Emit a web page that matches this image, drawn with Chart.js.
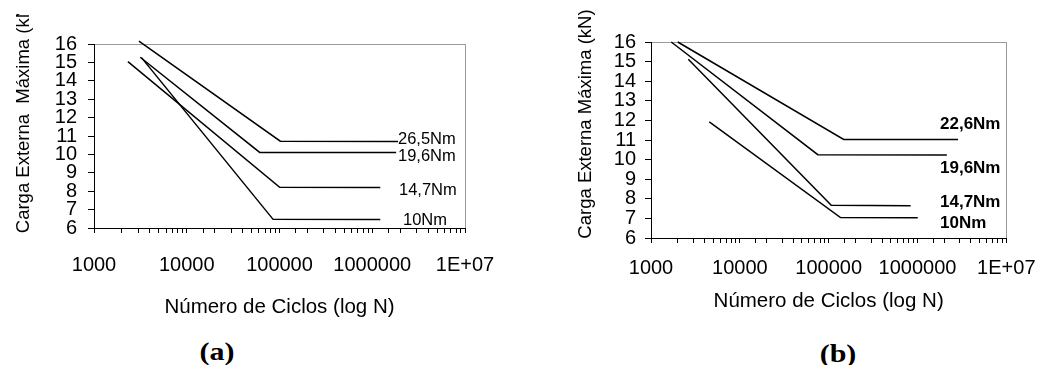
<!DOCTYPE html>
<html>
<head>
<meta charset="utf-8">
<script src="https://cdn.jsdelivr.net/npm/chart.js@4.4.1/dist/chart.umd.min.js"></script>
<style>
  html, body { margin: 0; padding: 0; background: #fff; }
  body { width: 1049px; height: 365px; position: relative; overflow: hidden; font-family: 'Liberation Sans', Arial, sans-serif; }
  canvas { position: absolute; }
  .t { position: absolute; white-space: nowrap; color: #000; }
  .ytitle { width: 300px; height: 24px; line-height: 24px; text-align: center; font-size: 18.5px; transform: rotate(-90deg); }
  .lab { height: 20px; line-height: 20px; font-size: 16.5px; }
  .labb { height: 20px; line-height: 20px; font-size: 17px; font-weight: bold; }
  .cap { width: 80px; height: 30px; line-height: 30px; text-align: center; font-family: 'Liberation Serif', 'Times New Roman', serif; font-weight: bold; font-size: 25px; transform: scaleX(1.2); }
</style>
</head>
<body>
<canvas id="ca" width="525" height="330" style="left:0;top:0"></canvas>
<canvas id="cb" width="524" height="330" style="left:525px;top:0"></canvas>

<div style="position:absolute;left:0;top:14px;width:50px;height:250px;overflow:hidden">
  <div class="t ytitle" style="left:-127px;top:90px">Carga Externa&nbsp; Máxima (kN)</div>
</div>
<div class="t ytitle" style="left:435px;top:112px">Carga Externa Máxima (kN)</div>

<div class="t lab" style="left:398px;top:128px">26,5Nm</div>
<div class="t lab" style="left:398px;top:145px">19,6Nm</div>
<div class="t lab" style="left:399px;top:179px">14,7Nm</div>
<div class="t lab" style="left:403px;top:209px">10Nm</div>

<div class="t labb" style="left:940px;top:114px">22,6Nm</div>
<div class="t labb" style="left:940px;top:158px">19,6Nm</div>
<div class="t labb" style="left:940px;top:192px">14,7Nm</div>
<div class="t labb" style="left:940px;top:213px">10Nm</div>

<div class="t cap" style="left:177px;top:337px">(a)</div>
<div class="t cap" style="left:798px;top:339px">(b)</div>

<script>
// ---- Tick labels ----
const xTickValues = [1000, 10000, 100000, 1000000, 10000000];
const xTickLabels = ['1000', '10000', '100000', '1000000', '1E+07'];
const yMin = 6, yMax = 16;
const xTitle = 'Número de Ciclos (log N)';

// ---- Chart (a): number of cycles / max load ----
const a_26_5Nm_N = [3050, 102000, 1900000];
const a_26_5Nm_P = [16.16, 10.72, 10.70];
const a_19_6Nm_N = [3150, 61200, 1810000];
const a_19_6Nm_P = [15.28, 10.11, 10.10];
const a_14_7Nm_N = [2320, 100500, 1220000];
const a_14_7Nm_P = [15.04, 8.21, 8.20];
const a_10Nm_N   = [3250, 85300, 1220000];
const a_10Nm_P   = [15.26, 6.47, 6.46];

// ---- Chart (b) ----
const b_22_6Nm_N = [2000, 147700, 2860000];
const b_22_6Nm_P = [16.00, 11.03, 11.02];
const b_19_6Nm_N = [1690, 75500, 2140000];
const b_19_6Nm_P = [16.00, 10.25, 10.24];
const b_14_7Nm_N = [2630, 107000, 838000];
const b_14_7Nm_P = [15.12, 7.67, 7.65];
const b_10Nm_N   = [4530, 136000, 1007000];
const b_10Nm_P   = [11.92, 7.04, 7.03];

function pts(xs, ys) { return xs.map((x, i) => ({ x: x, y: ys[i] })); }
function ds(label, xs, ys) {
  return { label: label, data: pts(xs, ys), borderColor: '#000', borderWidth: 1.5,
           pointRadius: 0, tension: 0, fill: false, clip: false };
}

const FONT = "'Liberation Sans', Arial, sans-serif";

function makeChart(id, datasets, cfg) {
  return new Chart(document.getElementById(id), {
    type: 'line',
    data: { datasets: datasets },
    options: {
      responsive: false, animation: false,
      layout: { padding: { top: cfg.padTop, right: cfg.padRight, left: 0, bottom: 0 } },
      plugins: { legend: { display: false }, tooltip: { enabled: false } },
      scales: {
        x: {
          type: 'logarithmic', min: 1000, max: 10000000,
          afterFit: s => { s.height = cfg.xHeight; },
          border: { display: true, color: '#000', width: 1 },
          grid: {
            drawOnChartArea: true, drawTicks: true, tickLength: 5,
            color: c => (c.tick && c.tick.value === 10000000) ? '#9a9a9a' : 'rgba(0,0,0,0)',
            tickColor: '#000', lineWidth: 1
          },
          ticks: {
            autoSkip: false, maxRotation: 0, minRotation: 0, padding: cfg.xTickPad,
            color: '#000', font: { family: FONT, size: 20 },
            callback: v => { const i = xTickValues.indexOf(Number(v)); return i >= 0 ? xTickLabels[i] : ''; }
          },
          title: { display: true, text: xTitle, color: '#000',
                   font: { family: FONT, size: 20.5 }, padding: { top: 0, bottom: cfg.xTitlePad } }
        },
        y: {
          type: 'linear', min: yMin, max: yMax,
          afterFit: s => { s.width = cfg.yWidth; },
          border: { display: true, color: '#000', width: 1 },
          grid: {
            drawOnChartArea: true, drawTicks: true, tickLength: 6,
            color: c => (c.tick && c.tick.value === yMax) ? '#9a9a9a' : 'rgba(0,0,0,0)',
            tickColor: '#000', lineWidth: 1
          },
          ticks: { stepSize: 1, autoSkip: false, padding: cfg.yTickPad, color: '#000', font: { family: FONT, size: 20 } }
        }
      }
    }
  });
}

makeChart('ca', [
  ds('26,5Nm', a_26_5Nm_N, a_26_5Nm_P),
  ds('19,6Nm', a_19_6Nm_N, a_19_6Nm_P),
  ds('14,7Nm', a_14_7Nm_N, a_14_7Nm_P),
  ds('10Nm', a_10Nm_N, a_10Nm_P)
], { padTop: 44, padRight: 60, xHeight: 102, yWidth: 94, xTickPad: 20.5, xTitlePad: 10, yTickPad: 11 });

makeChart('cb', [
  ds('22,6Nm', b_22_6Nm_N, b_22_6Nm_P),
  ds('19,6Nm', b_19_6Nm_N, b_19_6Nm_P),
  ds('14,7Nm', b_14_7Nm_N, b_14_7Nm_P),
  ds('10Nm', b_10Nm_N, b_10Nm_P)
], { padTop: 42, padRight: 31, xHeight: 92, yWidth: 126, xTickPad: 13.5, xTitlePad: 16.5, yTickPad: 9 });
</script>
</body>
</html>
